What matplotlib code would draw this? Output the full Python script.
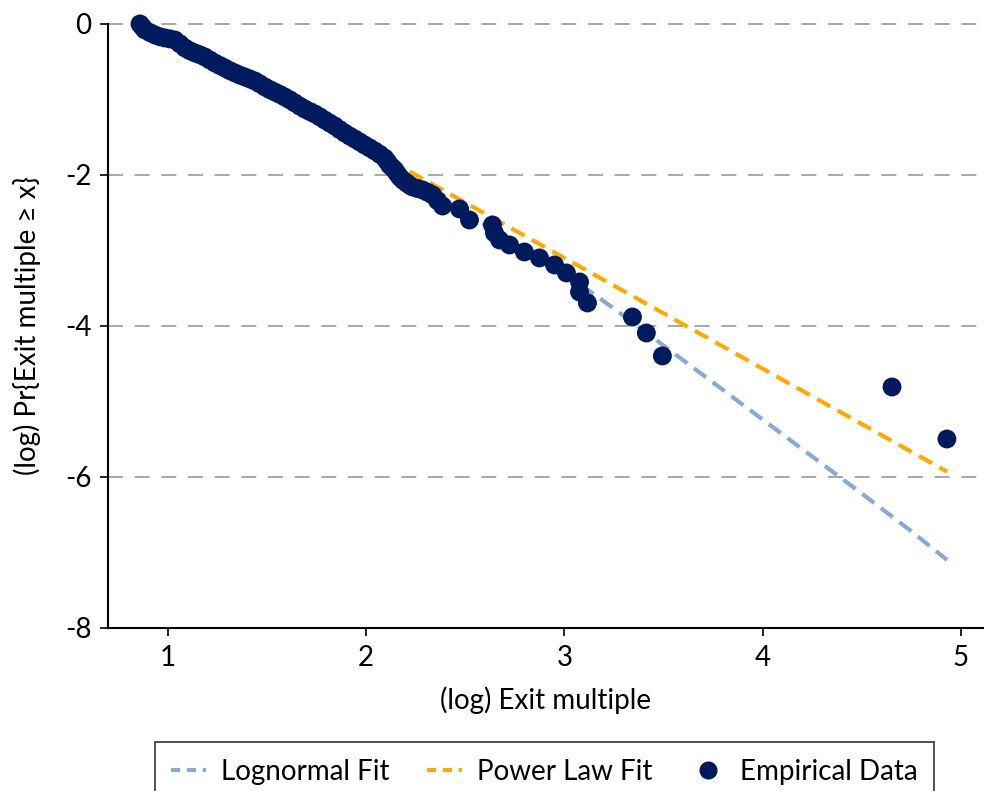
import numpy as np
import matplotlib
matplotlib.use('Agg')
import matplotlib.pyplot as plt
from matplotlib.lines import Line2D

plt.rcParams['font.family'] = ['Lato', 'DejaVu Sans']

# empirical points (log exit multiple, log survival prob)
emp_x = [0.859, 0.872, 0.884, 0.910, 0.935, 0.960, 0.985, 1.010, 1.035, 1.060,
         1.086, 1.111, 1.136, 1.161, 1.186, 1.212, 1.237, 1.262, 1.287, 1.312,
         1.338, 1.363, 1.388, 1.413, 1.438, 1.463, 1.489, 1.514, 1.539, 1.564,
         1.589, 1.615, 1.640, 1.665, 1.690, 1.716, 1.741, 1.766, 1.791, 1.816,
         1.841, 1.866, 1.892, 1.917, 1.942, 1.967, 1.992, 2.018, 2.043, 2.068,
         2.093, 2.106, 2.118, 2.131, 2.144, 2.156, 2.169, 2.186, 2.204, 2.219,
         2.234, 2.260, 2.285, 2.310, 2.335, 2.360, 2.385, 2.471, 2.521,
         2.637, 2.647, 2.673, 2.723, 2.798, 2.874, 2.950, 3.010, 3.076, 3.076,
         3.116, 3.343, 3.413, 3.494, 4.652, 4.929]
emp_y = [0.000, -0.040, -0.079, -0.115, -0.146, -0.170, -0.185, -0.198, -0.212, -0.262,
         -0.318, -0.355, -0.384, -0.408, -0.437, -0.478, -0.517, -0.550, -0.583, -0.618,
         -0.649, -0.678, -0.702, -0.728, -0.755, -0.792, -0.834, -0.870, -0.901, -0.932,
         -0.967, -1.005, -1.046, -1.088, -1.126, -1.160, -1.192, -1.230, -1.272, -1.312,
         -1.351, -1.398, -1.444, -1.485, -1.523, -1.562, -1.603, -1.642, -1.682, -1.725,
         -1.775, -1.820, -1.868, -1.900, -1.934, -1.980, -2.026, -2.070, -2.106, -2.135,
         -2.159, -2.180, -2.199, -2.230, -2.265, -2.340, -2.411, -2.450, -2.596,
         -2.662, -2.768, -2.861, -2.927, -3.020, -3.099, -3.192, -3.298, -3.417, -3.550,
         -3.695, -3.881, -4.093, -4.397, -4.808, -5.497]

# lognormal fit
ln_x = [0.86, 1.0, 1.25, 1.5, 1.75, 2.0, 2.25, 2.5, 2.75, 3.0, 3.25, 3.5,
        3.75, 4.0, 4.25, 4.5, 4.75, 4.93]
ln_y = [0.0, -0.19, -0.55, -0.88, -1.23, -1.62, -2.1, -2.5, -2.9, -3.3, -3.77, -4.26,
        -4.75, -5.24, -5.73, -6.22, -6.72, -7.1]

# power law fit
pl_x = [1.5, 4.93]
pl_y = [-0.9, -5.93]

c_ln = '#88a9d4'
c_pl = '#ffaa00'
c_emp = '#001a5e'
dash = (3.6, 2.0)

fig = plt.figure(figsize=(9.84, 7.91), dpi=100)
ax = fig.add_axes([0.1098, 0.2061, 0.8902, 0.7636])

for yv in [-6, -4, -2, 0]:
    ax.axhline(yv, color='#9a9a9a', lw=1.2, dashes=(9, 7), zorder=0, clip_on=False)

ax.plot(ln_x, ln_y, color=c_ln, lw=3, dashes=dash, zorder=1)
ax.plot(pl_x, pl_y, color=c_pl, lw=3, dashes=dash, zorder=2)
ax.scatter(emp_x, emp_y, s=185, color=c_emp, edgecolors='none', zorder=3, clip_on=False)

ax.set_xlim(0.698, 5.116)
ax.set_ylim(-8, 0)
ax.set_xticks([1, 2, 3, 4, 5])
ax.set_yticks([-8, -6, -4, -2, 0])
ax.set_yticklabels(['-8', '-6', '-4', '-2', '0'])

for s in ['top', 'right']:
    ax.spines[s].set_visible(False)
for s in ['left', 'bottom']:
    ax.spines[s].set_linewidth(1.5)
ax.tick_params(direction='out', length=6, width=1.2, labelsize=20, pad=6)

ax.set_xlabel('(log) Exit multiple', fontsize=20, labelpad=11)
ax.set_ylabel('(log) Pr{Exit multiple \u2265 x}', fontsize=20, labelpad=17)

handles = [Line2D([], [], color=c_ln, lw=3, dashes=(2.2, 1.6)),
           Line2D([], [], color=c_pl, lw=3, dashes=(2.2, 1.6)),
           Line2D([], [], color=c_emp, marker='o', ms=12, ls='none')]
leg = fig.legend(handles, ['Lognormal Fit', 'Power Law Fit', 'Empirical Data'],
                 loc='upper center', bbox_to_anchor=(0.5534, 0.062), ncol=3,
                 fontsize=20, frameon=True, fancybox=False, edgecolor='black',
                 handlelength=1.25, handletextpad=0.55, columnspacing=1.35,
                 borderpad=0.6, borderaxespad=0)
leg.get_frame().set_linewidth(1.2)

fig.savefig('out.png', dpi=100)
